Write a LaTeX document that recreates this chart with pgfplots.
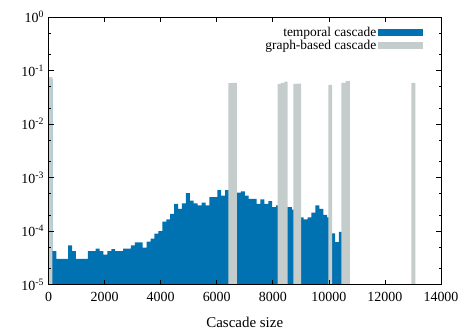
\documentclass[border=0pt]{standalone}
\usepackage{fontspec}
\setmainfont{Liberation Serif}
\usepackage{pgfplots}
\pgfplotsset{compat=1.18}
\definecolor{tblue}{RGB}{0,114,178}
\definecolor{ggray}{RGB}{197,204,204}
\begin{document}
\begin{tikzpicture}
\path[use as bounding box] (-48.5bp,-50.5bp) rectangle (415.5bp,284.5bp);
\begin{axis}[
  at={(0,0)}, anchor=south west,
  scale only axis, width=392.5bp, height=267.5bp,
  ymode=log, ymin=1e-5, ymax=1,
  xmin=0, xmax=14000,
  xtick={0,2000,4000,6000,8000,10000,12000,14000},
  ytick={1e-5,1e-4,1e-3,1e-2,1e-1,1},
  yticklabels={10\textsuperscript{-5},10\textsuperscript{-4},10\textsuperscript{-3},10\textsuperscript{-2},10\textsuperscript{-1},10\textsuperscript{0}},
  minor ytick={2e-5,5e-5,2e-4,5e-4,2e-3,5e-3,2e-2,5e-2,2e-1,5e-1},
  /pgf/number format/assume math mode=true,
  /pgf/number format/set thousands separator={},
  scaled x ticks=false,
  tick align=inside,
  major tick length=5bp, minor tick length=2.5bp,
  tick style={black, line width=0.6bp},
  axis line style={black, line width=0.8bp},
  axis on top,
  ticklabel style={font=\fontsize{14}{16}\selectfont},
  yticklabel style={xshift=-1bp},
  xticklabel style={yshift=-4bp},
  xlabel={Cascade size},
  xlabel style={font=\fontsize{15}{18}\selectfont, yshift=-9bp},
  legend plot pos=right,
  legend cell align=right,
  legend style={draw=none, fill=none, at={(0.954,0.968)}, anchor=north east,
    font=\fontsize{13.5}{15}\selectfont, row sep=-0.5pt, inner sep=0pt,
    nodes={inner sep=1.5pt}},
]
\addplot[fill=tblue, draw=none, const plot mark left,
  legend image code/.code={\fill[tblue] (0bp,-3.5bp) rectangle (45bp,3.5bp);}]
coordinates {
(0,1e-5) (0,0.07) (140,4.2e-5) (280,3.0e-5) (420,3.0e-5) (560,3.0e-5)
(700,5.4e-5) (840,4.2e-5) (980,3.0e-5) (1120,3.0e-5) (1260,3.0e-5)
(1400,4.2e-5) (1540,4.2e-5) (1680,4.7e-5) (1820,4.2e-5) (1960,3.6e-5)
(2100,4.2e-5) (2240,4.6e-5) (2380,4.2e-5) (2520,4.2e-5) (2660,4.7e-5)
(2800,4.7e-5) (2940,5.4e-5) (3080,6.1e-5) (3220,6.1e-5) (3360,4.9e-5)
(3500,6.3e-5) (3640,7.2e-5) (3780,8.9e-5) (3920,1.0e-4) (4060,1.5e-4)
(4200,1.65e-4) (4340,2.1e-4) (4480,3.2e-4) (4620,2.6e-4) (4760,3.3e-4)
(4900,5.1e-4) (5040,3.7e-4) (5180,3.3e-4) (5320,3.0e-4) (5460,3.4e-4)
(5600,3.0e-4) (5740,4.3e-4) (5880,4.3e-4) (6020,5.8e-4) (6160,4.6e-4)
(6300,5.8e-4) (6440,5.8e-4) (6580,5.5e-4) (6720,5.2e-4) (6860,5.5e-4)
(7000,4.6e-4) (7140,4.0e-4) (7280,4.0e-4) (7420,3.2e-4) (7560,3.9e-4)
(7700,3.2e-4) (7840,3.6e-4) (7980,2.8e-4) (8120,3.0e-4) (8260,2.8e-4)
(8400,2.8e-4) (8540,2.8e-4) (8680,2.5e-4) (8820,2.5e-4) (8960,1.8e-4)
(9100,1.65e-4) (9240,1.8e-4) (9380,2.2e-4) (9520,3.0e-4) (9660,2.6e-4)
(9800,2.0e-4) (9940,1.8e-4) (10080,9e-5) (10220,6.2e-5) (10360,9.6e-5)
(10500,1e-5)
};
\addlegendentry{temporal cascade}
\addplot[fill=ggray, draw=none, const plot mark left,
  legend image code/.code={\fill[ggray] (0bp,-3.5bp) rectangle (45bp,3.5bp);}]
coordinates {
(0,1e-5) (0,0.075) (140,1e-5)
(6420,0.058) (6570,0.059) (6720,1e-5)
(8170,0.056) (8290,0.059) (8410,0.062) (8530,1e-5)
(8730,0.056) (8870,0.057) (9010,1e-5)
(9985,0.054) (10120,1e-5)
(10450,0.059) (10600,0.063) (10750,1e-5)
(12940,0.059) (13085,1e-5)
};
\addlegendentry{graph-based cascade}
\end{axis}
\end{tikzpicture}
\end{document}
